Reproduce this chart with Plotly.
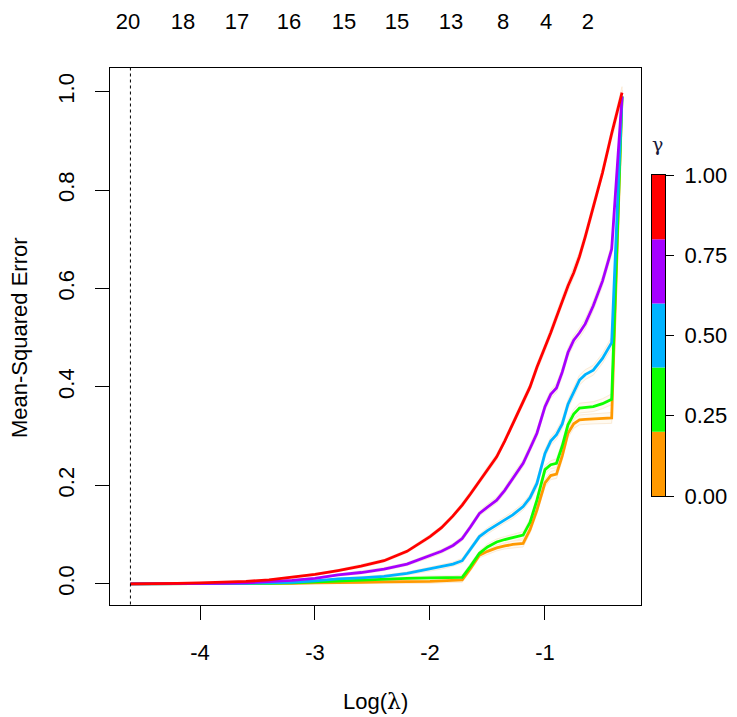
import plotly.graph_objects as go

# ---------------- data ----------------
log_lambda = [-4.605, -4.4, -4.2, -4.0, -3.8, -3.6, -3.4, -3.2, -3.0, -2.8,
              -2.6, -2.4, -2.2, -2.0, -1.9, -1.8, -1.72, -1.65, -1.57, -1.5,
              -1.42, -1.35, -1.28, -1.19, -1.13, -1.07, -1.0, -0.95, -0.9, -0.85,
              -0.8, -0.75, -0.7, -0.65, -0.58, -0.5, -0.42, -0.33]

mse_gamma_000 = [0.000, 0.000, 0.000, 0.000, 0.000, 0.000, 0.001, 0.001, 0.002, 0.002,
                 0.003, 0.004, 0.004, 0.005, 0.006, 0.007, 0.008, 0.030, 0.058, 0.066,
                 0.073, 0.077, 0.080, 0.082, 0.110, 0.150, 0.205, 0.220, 0.223, 0.260,
                 0.306, 0.325, 0.333, 0.334, 0.335, 0.336, 0.337, 0.990]
mse_gamma_025 = [0.000, 0.000, 0.000, 0.000, 0.000, 0.001, 0.001, 0.002, 0.004, 0.006,
                 0.008, 0.009, 0.011, 0.012, 0.012, 0.012, 0.013, 0.035, 0.062, 0.075,
                 0.085, 0.090, 0.094, 0.099, 0.125, 0.170, 0.232, 0.242, 0.245, 0.280,
                 0.323, 0.345, 0.357, 0.358, 0.360, 0.366, 0.375, 0.990]
mse_gamma_050 = [0.000, 0.000, 0.000, 0.000, 0.001, 0.001, 0.002, 0.003, 0.006, 0.010,
                 0.012, 0.015, 0.021, 0.030, 0.034, 0.040, 0.047, 0.070, 0.096, 0.108,
                 0.119, 0.130, 0.140, 0.157, 0.175, 0.204, 0.265, 0.290, 0.303, 0.325,
                 0.365, 0.390, 0.414, 0.425, 0.434, 0.458, 0.490, 0.990]
mse_gamma_075 = [0.000, 0.000, 0.000, 0.001, 0.001, 0.002, 0.004, 0.007, 0.011, 0.018,
                 0.023, 0.030, 0.040, 0.057, 0.066, 0.078, 0.092, 0.115, 0.143, 0.156,
                 0.170, 0.190, 0.215, 0.245, 0.275, 0.306, 0.360, 0.385, 0.398, 0.430,
                 0.470, 0.495, 0.510, 0.528, 0.565, 0.615, 0.680, 0.990]
mse_gamma_100 = [0.000, 0.000, 0.001, 0.002, 0.003, 0.005, 0.008, 0.013, 0.019, 0.027,
                 0.036, 0.047, 0.066, 0.096, 0.114, 0.138, 0.160, 0.182, 0.208, 0.232,
                 0.258, 0.290, 0.326, 0.370, 0.400, 0.440, 0.480, 0.510, 0.542, 0.575,
                 0.605, 0.632, 0.665, 0.705, 0.765, 0.835, 0.915, 0.998]
cv_se = [0.000, 0.000, 0.001, 0.001, 0.001, 0.001, 0.001, 0.002, 0.002, 0.002,
         0.003, 0.003, 0.003, 0.004, 0.004, 0.004, 0.005, 0.005, 0.005, 0.006,
         0.006, 0.006, 0.007, 0.007, 0.007, 0.008, 0.008, 0.008, 0.009, 0.009,
         0.009, 0.009, 0.010, 0.010, 0.010, 0.010, 0.011, 0.012]

gamma = [0.0, 0.25, 0.5, 0.75, 1.0]
gamma_labels = ["0.00", "0.25", "0.50", "0.75", "1.00"]
gamma_colors = ["#FF9900", "#0DFF00", "#00B3FF", "#A600FF", "#FF0000"]

top_axis_pos = [-4.626, -4.148, -3.678, -3.226, -2.748, -2.287, -1.817, -1.365, -0.991, -0.626]
top_axis_labels = ["20", "18", "17", "16", "15", "15", "13", "8", "4", "2"]

x_ticks = [-4, -3, -2, -1]
x_tick_labels = ["-4", "-3", "-2", "-1"]
y_ticks = [0.0, 0.2, 0.4, 0.6, 0.8, 1.0]
y_tick_labels = ["0.0", "0.2", "0.4", "0.6", "0.8", "1.0"]

log_lambda_min = -4.605

# ---------------- layout helpers ----------------
# the page body has an 8px margin, so the figure is drawn 8px smaller and
# screen-pixel positions are converted accordingly
OFF = 8
W, H = 737 - OFF, 717 - OFF
FONT = "Liberation Sans, Arial, sans-serif"
FS = 22


def fx(p):
    return (p - OFF) / W


def fy(p):
    return 1 - (p - OFF) / H


curves = [mse_gamma_000, mse_gamma_025, mse_gamma_050, mse_gamma_075, mse_gamma_100]

fig = go.Figure()

# SE bands
for mse in curves:
    up = [m + s for m, s in zip(mse, cv_se)]
    lo = [m - s for m, s in zip(mse, cv_se)]
    fig.add_trace(go.Scatter(
        x=log_lambda + log_lambda[::-1], y=up + lo[::-1],
        fill="toself", fillcolor="#FFFAF0", mode="lines",
        line=dict(color="#FAEBD7", width=1), hoverinfo="skip", showlegend=False))

# CV curves
for mse, col, g in zip(curves, gamma_colors, gamma):
    fig.add_trace(go.Scatter(
        x=log_lambda, y=mse, mode="lines", name=f"gamma={g}",
        line=dict(color=col, width=2.8), showlegend=False))

# invisible trace on the top axis
fig.add_trace(go.Scatter(x=top_axis_pos, y=[0] * len(top_axis_pos), xaxis="x2",
                         mode="none", hoverinfo="skip", showlegend=False))

# colour legend bar
n = len(gamma)
for i, col in enumerate(gamma_colors):
    fig.add_trace(go.Bar(x=[0], y=[1.0 / n], base=[i / n], width=1.0,
                         marker=dict(color=col, line=dict(width=0)),
                         xaxis="x3", yaxis="y3", hoverinfo="skip", showlegend=False))

fig.add_vline(x=log_lambda_min, line=dict(color="black", width=1, dash="dot"))

xd = [fx(109.5), fx(641)]
yd = [fy(604.5), fy(68)]

axis_common = dict(showgrid=False, zeroline=False, showline=True, linecolor="black",
                   linewidth=1, mirror=True, ticks="outside", tickcolor="black",
                   tickwidth=1, automargin=False,
                   tickfont=dict(family=FONT, size=FS, color="black"))

fig.update_layout(
    width=W, height=H,
    margin=dict(l=0, r=0, t=0, b=0, pad=0, autoexpand=False),
    paper_bgcolor="white", plot_bgcolor="white",
    showlegend=False, barmode="overlay",
    xaxis=dict(domain=xd, anchor="y", range=[-4.787, -0.165], tickvals=x_ticks,
               ticktext=x_tick_labels, ticklen=14, ticklabelstandoff=14, **axis_common),
    yaxis=dict(domain=yd, anchor="x", range=[-0.042, 1.048], tickvals=y_ticks,
               ticktext=y_tick_labels, ticklen=14, tickangle=-90,
               ticklabelstandoff=12, **axis_common),
    xaxis2=dict(overlaying="x", side="top", anchor="y", range=[-4.787, -0.165],
                tickvals=top_axis_pos, ticktext=top_axis_labels, ticks="",
                showline=False, showgrid=False, zeroline=False, ticklabelstandoff=34,
                automargin=False,
                tickfont=dict(family=FONT, size=FS, color="black")),
    xaxis3=dict(domain=[fx(652), fx(665)], anchor="y3", range=[-0.5, 0.5],
                showticklabels=False, ticks="", showgrid=False, zeroline=False,
                showline=True, linecolor="black", linewidth=1, mirror=True,
                automargin=False),
    yaxis3=dict(domain=[fy(496), fy(175)], anchor="x3", side="right", range=[0, 1],
                tickvals=gamma, ticktext=gamma_labels, showgrid=False, zeroline=False,
                showline=True, linecolor="black", linewidth=1, mirror=True,
                ticks="outside", ticklen=8, tickcolor="black", ticklabelstandoff=6,
                automargin=False,
                tickfont=dict(family=FONT, size=FS, color="black")),
    annotations=[
        dict(text="Mean-Squared Error", x=fx(20), y=fy(338), xref="paper", yref="paper",
             showarrow=False, textangle=-90, font=dict(family=FONT, size=FS, color="black"),
             xanchor="center", yanchor="middle"),
        dict(text="Log(<span style='font-family:DejaVu Serif'>λ</span>)", x=fx(375), y=fy(701),
             xref="paper", yref="paper", showarrow=False,
             font=dict(family=FONT, size=FS, color="black"), xanchor="center", yanchor="middle"),
        dict(text="γ", x=fx(657), y=fy(144), xref="paper", yref="paper", showarrow=False,
             font=dict(family="DejaVu Serif", size=19, color="#1a1a3a"),
             xanchor="center", yanchor="middle"),
    ],
)

fig.write_html("out.html")
